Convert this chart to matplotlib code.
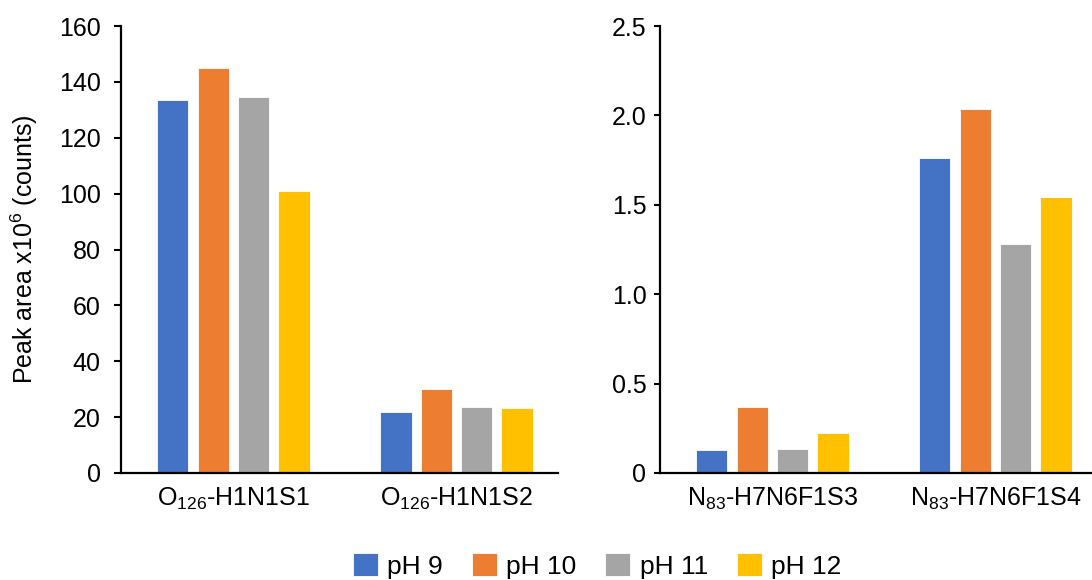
import numpy as np
import matplotlib
matplotlib.use("Agg")
import matplotlib.pyplot as plt

plt.rcParams['font.family'] = ['Liberation Sans', 'DejaVu Sans']
plt.rcParams['mathtext.fontset'] = 'custom'
plt.rcParams['mathtext.rm'] = 'Liberation Sans'
plt.rcParams['mathtext.it'] = 'Liberation Sans'

series = ['pH 9', 'pH 10', 'pH 11', 'pH 12']
colors = ['#4472C4', '#ED7D31', '#A5A5A5', '#FFC000']

left_cats = [r'O$_{126}$-H1N1S1', r'O$_{126}$-H1N1S2']
left_vals = [[133.5, 21.9],   # pH 9
             [144.8, 30.2],   # pH 10
             [134.7, 23.5],   # pH 11
             [100.8, 23.4]]   # pH 12
left_ticks = [0, 20, 40, 60, 80, 100, 120, 140, 160]

right_cats = [r'N$_{83}$-H7N6F1S3', r'N$_{83}$-H7N6F1S4']
right_vals = [[0.13, 1.76],
              [0.367, 2.037],
              [0.132, 1.279],
              [0.225, 1.542]]
right_ticks = [0, 0.5, 1.0, 1.5, 2.0, 2.5]
right_ticklabels = ['0', '0.5', '1.0', '1.5', '2.0', '2.5']

TICK_FS = 18
LABEL_FS = 18
W = 0.14
STEP = 0.181

fig = plt.figure(figsize=(10.92, 5.8), dpi=100)
ax1 = fig.add_axes([121 / 1092, 107 / 580, 437 / 1092, 447 / 580])
ax2 = fig.add_axes([660 / 1092, 107 / 580, 432 / 1092, 447 / 580])


def draw(ax, cats, vals, ticks, ylim, xlim, tlen, tpad):
    x = np.arange(len(cats))
    handles = []
    for i, (v, c) in enumerate(zip(vals, colors)):
        b = ax.bar(x + (i - 1.5) * STEP, v, W, color=c, edgecolor='white',
                   linewidth=0.6, label=series[i])
        handles.append(b)
    ax.set_xticks(x)
    ax.set_xticklabels(cats, fontsize=LABEL_FS)
    ax.set_ylim(*ylim)
    ax.set_xlim(*xlim)
    ax.set_yticks(ticks)
    ax.tick_params(axis='y', labelsize=TICK_FS, length=tlen, width=1.5,
                   direction='out', pad=tpad)
    ax.tick_params(axis='x', length=0, pad=9)
    for s in ['top', 'right']:
        ax.spines[s].set_visible(False)
    for s in ['left', 'bottom']:
        ax.spines[s].set_linewidth(1.6)
    return handles


handles = draw(ax1, left_cats, left_vals, left_ticks, (0, 160), (-0.504, 1.455), 5, 9.5)
draw(ax2, right_cats, right_vals, right_ticks, (0, 2.5), (-0.504, 1.433), 4.3, 5.5)
ax2.set_yticklabels(right_ticklabels)

ax1.set_ylabel(r'Peak area x10$^{6}$ (counts)', fontsize=LABEL_FS)
ax1.yaxis.set_label_coords(-0.185, 0.5)

fig.legend(handles, series, loc='center', bbox_to_anchor=(597 / 1092, 1 - 566 / 580),
           ncol=4, frameon=False, fontsize=19, handlelength=0.95, handleheight=0.95,
           columnspacing=1.1, handletextpad=0.35)

fig.savefig('out.png', dpi=100)
